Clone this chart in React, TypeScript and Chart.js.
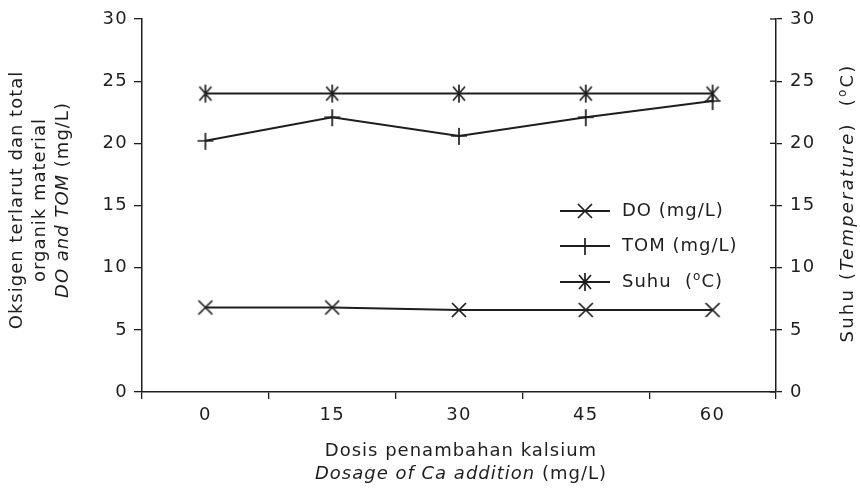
import React, { useEffect, useRef } from "react";
import { Chart, registerables } from "chart.js";

Chart.register(...registerables);

const categories = ["0", "15", "30", "45", "60"];
const doValues = [6.8, 6.8, 6.6, 6.6, 6.6];
const tomValues = [20.2, 22.1, 20.6, 22.1, 23.4];
const suhuValues = [24, 24, 24, 24, 24];
const yMin = 0;
const yMax = 30;
const yStep = 5;

const FONT = "'DejaVu Sans', sans-serif";
const FS = 18;
const INK = "#1e1e1e";

function makeMarker(kind: string): HTMLCanvasElement {
  const c = document.createElement("canvas");
  c.width = 20;
  c.height = 22;
  const g = c.getContext("2d")!;
  g.strokeStyle = INK;
  g.lineWidth = 1.7;
  g.beginPath();
  if (kind === "x") {
    g.moveTo(3, 4); g.lineTo(17, 18);
    g.moveTo(17, 4); g.lineTo(3, 18);
  } else if (kind === "plus") {
    g.moveTo(2, 11); g.lineTo(18, 11);
    g.moveTo(10, 3); g.lineTo(10, 20);
  } else {
    g.moveTo(10, 2); g.lineTo(10, 20);
    g.moveTo(4, 4); g.lineTo(16, 18);
    g.moveTo(16, 4); g.lineTo(4, 18);
  }
  g.stroke();
  return c;
}

type Run = { text: string; italic?: boolean; sup?: boolean };

function drawRuns(ctx: CanvasRenderingContext2D, runs: Run[], x: number, y: number, align: "center" | "left") {
  const fontFor = (r: Run) => `${r.italic ? "italic " : ""}${r.sup ? 12 : FS}px ${FONT}`;
  let total = 0;
  const widths = runs.map((r) => {
    ctx.font = fontFor(r);
    const w = ctx.measureText(r.text).width;
    total += w;
    return w;
  });
  let cx = align === "center" ? x - total / 2 : x;
  ctx.textAlign = "left";
  ctx.textBaseline = "middle";
  runs.forEach((r, i) => {
    ctx.font = fontFor(r);
    ctx.fillText(r.text, cx, r.sup ? y - 5 : y);
    cx += widths[i];
  });
}

export default function App() {
  const ref = useRef<HTMLCanvasElement | null>(null);

  useEffect(() => {
    if (!ref.current) return;
    const mX = makeMarker("x");
    const mPlus = makeMarker("plus");
    const mStar = makeMarker("star");

    const titlesPlugin = {
      id: "titlesLegend",
      beforeDraw(chart: any) {
        (chart.ctx as any).letterSpacing = "1.3px";
      },
      afterDraw(chart: any) {
        const ctx: CanvasRenderingContext2D = chart.ctx;
        const area = chart.chartArea;
        ctx.save();
        (ctx as any).letterSpacing = "1px";
        ctx.fillStyle = INK;
        ctx.strokeStyle = INK;

        const y1 = chart.scales.y1;
        ctx.lineWidth = 1.3;
        y1.ticks.forEach((t: any) => {
          const py = y1.getPixelForValue(t.value);
          ctx.beginPath();
          ctx.moveTo(area.right - 6, py);
          ctx.lineTo(area.right, py);
          ctx.stroke();
        });

        drawRuns(ctx, [{ text: "Dosis penambahan kalsium" }], 461, 451, "center");
        drawRuns(ctx, [{ text: "Dosage of Ca addition", italic: true }, { text: " (mg/L)" }], 461, 474, "center");

        ctx.save();
        ctx.translate(17, 200);
        ctx.rotate(-Math.PI / 2);
        drawRuns(ctx, [{ text: "Oksigen terlarut dan total" }], 0, 0, "center");
        drawRuns(ctx, [{ text: "organik material" }], 0, 23, "center");
        drawRuns(ctx, [{ text: "DO and TOM", italic: true }, { text: " (mg/L)" }], 0, 46, "center");
        ctx.restore();

        ctx.save();
        (ctx as any).letterSpacing = "2.2px";
        ctx.translate(848, 203);
        ctx.rotate(-Math.PI / 2);
        drawRuns(ctx, [{ text: "Suhu (" }, { text: "Temperature", italic: true }, { text: ")  (" }, { text: "o", sup: true }, { text: "C)" }], 0, 0, "center");
        ctx.restore();

        const items = [
          { img: mX, runs: [{ text: "DO (mg/L)" }] as Run[] },
          { img: mPlus, runs: [{ text: "TOM (mg/L)" }] as Run[] },
          { img: mStar, runs: [{ text: "Suhu  (" }, { text: "o", sup: true }, { text: "C)" }] as Run[] },
        ];
        const rows = [211, 246, 282];
        items.forEach((it, i) => {
          const yy = rows[i];
          ctx.lineWidth = 2;
          ctx.beginPath();
          ctx.moveTo(560, yy);
          ctx.lineTo(610, yy);
          ctx.stroke();
          ctx.drawImage(it.img, 585 - it.img.width / 2, yy - it.img.height / 2);
          drawRuns(ctx, it.runs, 622, yy, "left");
        });
        ctx.restore();
      },
    };

    const tickFont = { family: FONT, size: FS };
    const chart = new Chart(ref.current, {
      type: "line",
      data: {
        labels: categories,
        datasets: [
          { label: "DO (mg/L)", data: doValues, yAxisID: "y", borderColor: INK, borderWidth: 2, pointStyle: mX as any, backgroundColor: INK },
          { label: "TOM (mg/L)", data: tomValues, yAxisID: "y", borderColor: INK, borderWidth: 2, pointStyle: mPlus as any, backgroundColor: INK },
          { label: "Suhu (oC)", data: suhuValues, yAxisID: "y1", borderColor: INK, borderWidth: 2, pointStyle: mStar as any, backgroundColor: INK },
        ],
      },
      options: {
        animation: false,
        responsive: true,
        maintainAspectRatio: false,
        layout: { padding: { top: 19, left: 0, right: 0, bottom: 0 } },
        plugins: { legend: { display: false }, tooltip: { enabled: false }, title: { display: false } },
        elements: { line: { tension: 0 } },
        scales: {
          x: {
            type: "category",
            offset: true,
            grid: { display: true, offset: true, drawOnChartArea: false, drawTicks: true, tickLength: 7, color: INK, lineWidth: 1.3 },
            border: { display: true, color: INK, width: 1.5 },
            ticks: { font: tickFont, color: INK, padding: 6, maxRotation: 0 },
            afterFit: (s: any) => { s.height = 102; },
          },
          y: {
            position: "left",
            min: yMin,
            max: yMax,
            ticks: { stepSize: yStep, font: tickFont, color: INK, padding: 6 },
            grid: { display: true, drawOnChartArea: false, drawTicks: true, tickLength: 8, color: INK, lineWidth: 1.3 },
            border: { display: true, color: INK, width: 1.5 },
            afterFit: (s: any) => { s.width = 142; },
          },
          y1: {
            position: "right",
            min: yMin,
            max: yMax,
            ticks: { stepSize: yStep, font: tickFont, color: INK, padding: 8 },
            grid: { display: true, drawOnChartArea: false, drawTicks: true, tickLength: 6, color: INK, lineWidth: 1.3 },
            border: { display: true, color: INK, width: 1.5 },
            afterFit: (s: any) => { s.width = 84; },
          },
        },
      },
      plugins: [titlesPlugin],
    });
    return () => chart.destroy();
  }, []);

  return (
    <div style={{ position: "fixed", left: 0, top: 0, width: 860, height: 494, background: "#fff" }}>
      <canvas ref={ref} />
    </div>
  );
}
